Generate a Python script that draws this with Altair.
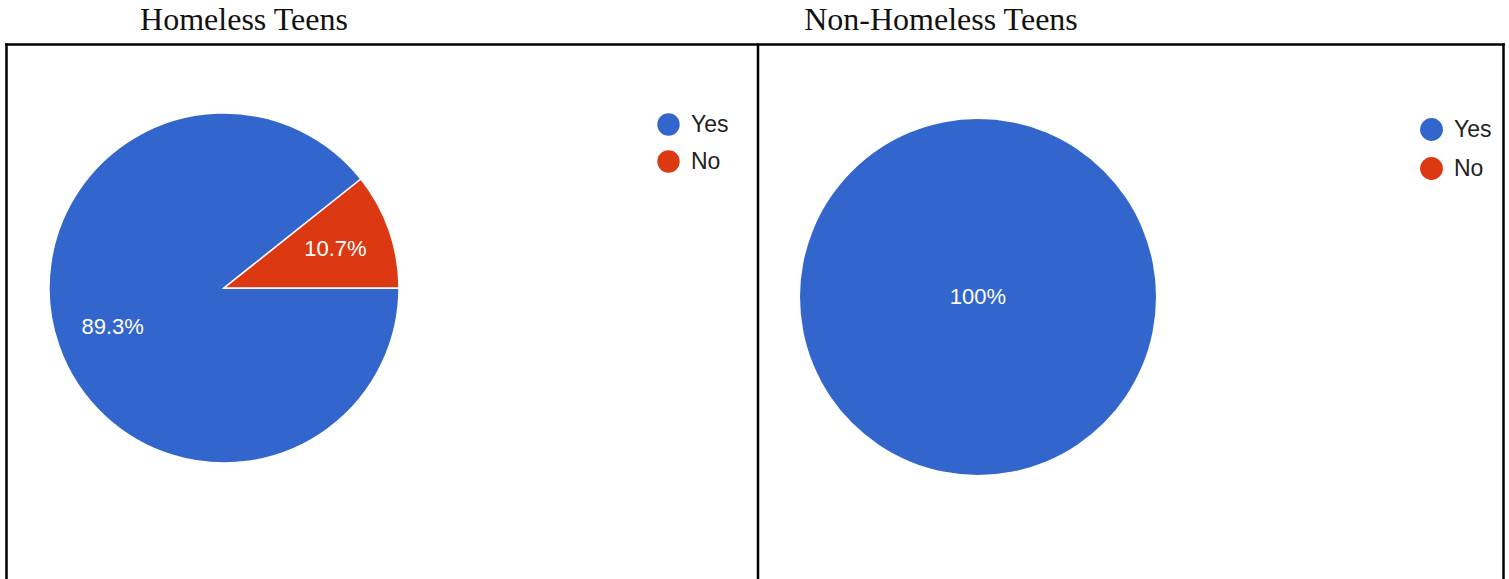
import math
import altair as alt
import pandas as pd

# ---- data ----
groups = ["Homeless Teens", "Non-Homeless Teens"]
answers = ["Yes", "No"]
homeless_pct = [89.3, 10.7]
non_homeless_pct = [100.0, 0.0]
colors = ["#3366cc", "#dc3912"]

def make_df(vals):
    return pd.DataFrame({
        "answer": answers,
        "value": vals,
        "idx": list(range(len(answers))),
        "label": [f"{v:g}%" for v in vals],
    })

left_df = make_df(homeless_pct)
right_df = make_df(non_homeless_pct)

LABEL_FONT = "Liberation Sans"
start = math.pi / 2
theta_scale = alt.Scale(range=[start, start + 2 * math.pi])


def pie(df, cx, cy, r, legend_x, legend_y, row_pad, sym_size, center_label=False):
    base = alt.Chart(df)
    stroke_w = 0 if center_label else 1.5
    arc = base.transform_filter("datum.value > 0").mark_arc(
        radius=r, stroke="white", strokeWidth=stroke_w
    ).encode(
        x=alt.value(cx),
        y=alt.value(cy),
        theta=alt.Theta("value:Q", stack=True, scale=theta_scale),
        order=alt.Order("idx:Q"),
        color=alt.Color(
            "answer:N",
            scale=alt.Scale(domain=answers, range=colors),
            sort=answers,
            legend=alt.Legend(
                title=None,
                orient="none",
                legendX=legend_x,
                legendY=legend_y,
                symbolType="circle",
                symbolSize=sym_size,
                symbolStrokeWidth=0,
                labelFont=LABEL_FONT,
                labelFontSize=23,
                labelColor="#222222",
                labelOffset=11,
                rowPadding=row_pad,
            ),
        ),
    )
    if center_label:
        txt = base.transform_filter("datum.value >= 100").mark_text(
            font=LABEL_FONT, fontSize=22, color="white"
        ).encode(
            x=alt.value(cx),
            y=alt.value(cy),
            text="label:N",
        )
    else:
        txt = base.transform_filter("datum.value > 0").mark_text(
            radius=118, font=LABEL_FONT, fontSize=22, color="white"
        ).encode(
            x=alt.value(cx),
            y=alt.value(cy),
            theta=alt.Theta("value:Q", stack=True, scale=theta_scale),
            order=alt.Order("idx:Q"),
            text="label:N",
        )
    return alt.layer(arc, txt)


left = pie(left_df, 224, 288, 175, 657, 113, 13, 500)
right = pie(right_df, 978, 297, 178, 1420, 118, 15, 520, center_label=True)

one = alt.Data(values=[{"a": 1}])
BORDER = dict(color="black", strokeWidth=2.5)
top_rule = alt.Chart(one).mark_rule(**BORDER).encode(
    x=alt.value(5), x2=alt.value(1505), y=alt.value(44.5)
)
v1 = alt.Chart(one).mark_rule(**BORDER).encode(
    x=alt.value(6.5), y=alt.value(43.5), y2=alt.value(600)
)
v2 = alt.Chart(one).mark_rule(**BORDER).encode(
    x=alt.value(758), y=alt.value(43.5), y2=alt.value(600)
)
v3 = alt.Chart(one).mark_rule(**BORDER).encode(
    x=alt.value(1503.5), y=alt.value(43.5), y2=alt.value(600)
)

TITLE = dict(font="Liberation Serif", fontSize=32, color="#111111",
             baseline="alphabetic", align="center")
t1 = alt.Chart(one).mark_text(**TITLE).encode(
    x=alt.value(244), y=alt.value(30), text=alt.value(groups[0])
)
t2 = alt.Chart(one).mark_text(**TITLE).encode(
    x=alt.value(941), y=alt.value(30), text=alt.value(groups[1])
)

chart = alt.layer(
    left, right, top_rule, v1, v2, v3, t1, t2
).resolve_scale(
    color="independent", theta="independent"
).properties(
    width=1509, height=579, padding=0, autosize="none"
).configure_view(stroke=None)

chart.save("out.html", embed_options={"renderer": "svg", "actions": False})
